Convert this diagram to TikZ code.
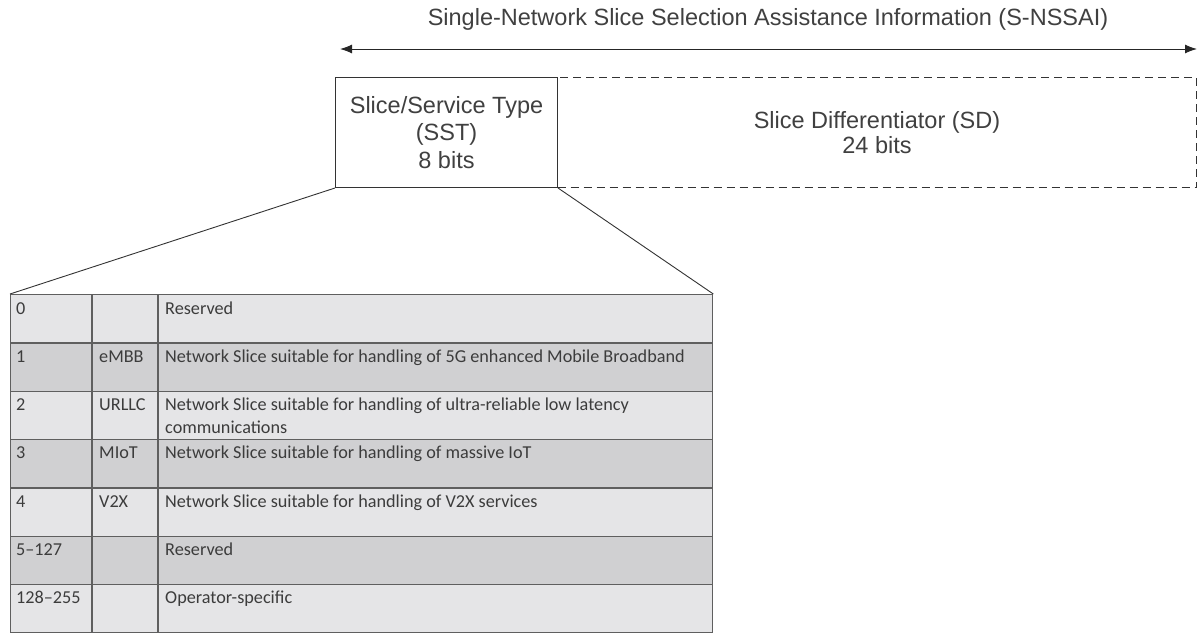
\documentclass[tikz,border=0pt]{standalone}
\usepackage{fontspec}
\setmainfont{Liberation Sans}
\newfontfamily\calib{Carlito}
\usetikzlibrary{arrows.meta}
\definecolor{rowlt}{RGB}{229,229,231}
\definecolor{rowdk}{RGB}{208,208,210}
\definecolor{gridc}{RGB}{95,95,95}
\definecolor{txt}{RGB}{60,60,60}
\begin{document}
\begin{tikzpicture}[x=1pt,y=-1pt,
  fieldbox/.style={draw=black!80, line width=1pt, minimum height=110pt, inner sep=0pt,
    anchor=north west, align=center, text=black!75},
  tabrow/.style={draw=gridc, line width=1.3pt, minimum width=702pt, minimum height=48.3pt,
    inner sep=0pt, anchor=north west},
  celltext/.style={font=\calib\fontsize{18.2}{23}\selectfont, text=txt, anchor=base west,
    inner sep=0pt},
  connector/.style={draw=black!80, line width=0.9pt},
  dimarrow/.style={draw=black!85, line width=1pt, {Latex[length=12pt,width=9pt]}-{Latex[length=12pt,width=9pt]}}
]
\useasboundingbox (0,0) rectangle (1198,632);

% title and span arrow
\node[font=\fontsize{23.5}{26}\selectfont, text=black!75] (title) at (768,19) {Single-Network Slice Selection Assistance Information (S-NSSAI)};
\coordinate (aL) at (340,49);
\coordinate (aR) at (1197,49);
\draw[dimarrow] (aL) -- (aR);

% fields
\node[fieldbox, minimum width=639pt, dashed, dash pattern=on 8pt off 5pt,
  font=\fontsize{23.5}{25}\selectfont] (sd) at (557,77)
  {Slice Differentiator (SD)\\24 bits};
\node[fieldbox, minimum width=222pt, fill=white,
  font=\fontsize{23.5}{27.5}\selectfont] (sst) at (335,77)
  {Slice/Service Type\\(SST)\\8 bits};

% table rows
\foreach \i/\c in {0/rowlt,1/rowdk,2/rowlt,3/rowdk,4/rowlt,5/rowdk,6/rowlt}{
  \node[tabrow, fill=\c] (r\i) at (10,{294+\i*48.3}) {};
}
% column lines
\coordinate (c1t) at (92,294);
\coordinate (c1b) at (92,632);
\coordinate (c2t) at (158,294);
\coordinate (c2b) at (158,632);
\draw[gridc, line width=1.3pt] (c1t) -- (c1b);
\draw[gridc, line width=1.3pt] (c2t) -- (c2b);

% cell texts
\foreach \i/\a/\b/\t in {
  0/0//Reserved,
  1/1/eMBB/Network Slice suitable for handling of 5G enhanced Mobile Broadband,
  2/2/URLLC/Network Slice suitable for handling of ultra-reliable low latency,
  3/3/MIoT/Network Slice suitable for handling of massive IoT,
  4/4/V2X/Network Slice suitable for handling of V2X services,
  5/5–127//Reserved,
  6/128–255//Operator-specific}{
  \node[celltext] (ta\i) at (16,{294+\i*48.3+20}) {\a};
  \node[celltext] (tb\i) at (99,{294+\i*48.3+20}) {\b};
  \node[celltext] (tc\i) at (165,{294+\i*48.3+20}) {\t};
}
\node[celltext] (tc2b) at (165,{294+2*48.3+43}) {communications};

% zoom connectors
\draw[connector] (sst.south west) -- (r0.north west);
\draw[connector] (sst.south east) -- (r0.north east);
\end{tikzpicture}
\end{document}
